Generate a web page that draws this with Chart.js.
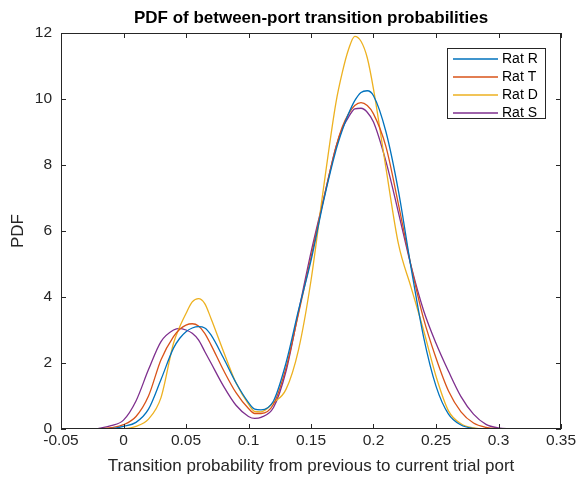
<!DOCTYPE html>
<html>
<head>
<meta charset="utf-8">
<script src="https://cdn.jsdelivr.net/npm/chart.js@4.4.1/dist/chart.umd.min.js"></script>
<style>
  html, body { margin: 0; padding: 0; background: #fff; }
  canvas { display: block; }
</style>
</head>
<body>
<canvas id="pdfChart" width="579" height="478"></canvas>
<script>
// Evaluation points (transition probability) shared by all four curves
const xValues = [-0.02, -0.01, 0, 0.01, 0.02, 0.03, 0.04, 0.045, 0.05, 0.055, 0.06, 0.065, 0.07,
    0.08, 0.09, 0.1, 0.105, 0.11, 0.12, 0.13, 0.14, 0.15, 0.16, 0.17, 0.175, 0.18, 0.185, 0.19,
    0.195, 0.2, 0.21, 0.22, 0.23, 0.24, 0.25, 0.26, 0.27, 0.28, 0.29, 0.3, 0.31];

// PDF values
const ratR = [0, 0.01, 0.08, 0.2, 0.6, 1.5, 2.45, 2.75, 2.95, 3.06, 3.1, 3.06, 2.85,
    2.15, 1.4, 0.8, 0.6, 0.58, 0.85, 2.0, 3.6, 5.1, 6.9, 8.45, 9.05, 9.55, 9.95, 10.2,
    10.25, 10.1, 9.0, 7.2, 4.9, 2.8, 1.3, 0.45, 0.12, 0.02, 0, 0, 0];
const ratT = [0, 0.04, 0.13, 0.38, 1.0, 2.1, 2.8, 3.02, 3.15, 3.19, 3.12, 2.9, 2.55,
    1.78, 1.1, 0.62, 0.47, 0.47, 0.75, 1.85, 3.5, 5.2, 6.95, 8.55, 9.15, 9.55, 9.8, 9.89,
    9.8, 9.55, 8.55, 6.8, 4.95, 3.35, 2.15, 1.15, 0.52, 0.18, 0.05, 0.01, 0];
const ratD = [0, 0, 0.01, 0.08, 0.3, 0.95, 2.6, 3.1, 3.5, 3.85, 3.95, 3.8, 3.35,
    2.35, 1.4, 0.75, 0.53, 0.52, 0.8, 1.2, 2.4, 4.5, 7.3, 9.9, 10.8, 11.5, 11.9, 11.75,
    11.25, 10.3, 7.9, 5.6, 4.3, 3.0, 1.6, 0.55, 0.16, 0.03, 0, 0, 0];
const ratS = [0.02, 0.1, 0.27, 0.85, 1.8, 2.65, 3.0, 3.05, 3.0, 2.9, 2.7, 2.35, 2.0,
    1.3, 0.72, 0.38, 0.32, 0.35, 0.65, 1.75, 3.55, 5.35, 6.95, 8.55, 9.1, 9.45, 9.7, 9.72,
    9.6, 9.3, 8.1, 6.55, 4.95, 3.6, 2.6, 1.75, 0.98, 0.45, 0.14, 0.03, 0];

const seriesNames = ['Rat R', 'Rat T', 'Rat D', 'Rat S'];
const seriesValues = [ratR, ratT, ratD, ratS];
const xTickLabels = ['-0.05', '0', '0.05', '0.1', '0.15', '0.2', '0.25', '0.3', '0.35'];
const yTickLabels = ['0', '2', '4', '6', '8', '10', '12'];

// MATLAB default line colours
const colors = ['#0072BD', '#D95319', '#EDB120', '#7E2F8E'];
const axisColor = '#262626';
const fontFamily = "'Liberation Sans', Arial, Helvetica, sans-serif";

// Box, inward ticks and legend, drawn the way MATLAB does it
const matlabAxes = {
    id: 'matlabAxes',
    afterLayout(chart) {
        // centre the title over the axes, not the whole canvas
        const t = chart.titleBlock;
        if (t) {
            t.left = chart.chartArea.left;
            t.right = chart.chartArea.right;
            t.width = t.right - t.left;
        }
    },
    afterDatasetsDraw(chart) {
        const { ctx, chartArea: a, scales: { x, y } } = chart;
        const tick = 5;
        ctx.save();
        ctx.strokeStyle = axisColor;
        ctx.lineWidth = 1;
        ctx.strokeRect(a.left + 0.5, a.top + 0.5, a.right - a.left - 1, a.bottom - a.top - 1);

        ctx.beginPath();
        x.ticks.forEach(t => {
            const px = Math.round(x.getPixelForValue(t.value)) + 0.5;
            ctx.moveTo(px, a.bottom); ctx.lineTo(px, a.bottom - tick);
            ctx.moveTo(px, a.top); ctx.lineTo(px, a.top + tick);
        });
        y.ticks.forEach(t => {
            const py = Math.round(y.getPixelForValue(t.value)) + 0.5;
            ctx.moveTo(a.left, py); ctx.lineTo(a.left + tick, py);
            ctx.moveTo(a.right, py); ctx.lineTo(a.right - tick, py);
        });
        ctx.stroke();

        // legend box in the top right corner
        const boxW = 99, boxH = 71;
        const bx = a.right - 15 - boxW, by = a.top + 15;
        ctx.fillStyle = '#fff';
        ctx.fillRect(bx, by, boxW, boxH);
        ctx.strokeRect(bx + 0.5, by + 0.5, boxW - 1, boxH - 1);
        ctx.font = '14px ' + fontFamily;
        ctx.textBaseline = 'middle';
        ctx.textAlign = 'left';
        chart.data.datasets.forEach((ds, i) => {
            const ly = by + 11 + i * 18;
            ctx.strokeStyle = ds.borderColor;
            ctx.lineWidth = 1.3;
            ctx.beginPath();
            ctx.moveTo(bx + 6, ly); ctx.lineTo(bx + 51, ly);
            ctx.stroke();
            ctx.fillStyle = '#000';
            ctx.fillText(ds.label, bx + 55, ly + 0.5);
        });
        ctx.restore();
    }
};

const datasets = seriesNames.map((name, i) => ({
    label: name,
    data: xValues.map((xv, j) => ({ x: xv, y: seriesValues[i][j] })),
    borderColor: colors[i],
    backgroundColor: 'transparent',
    borderWidth: 1.3,
    pointRadius: 0,
    cubicInterpolationMode: 'monotone',
    fill: false
}));

new Chart(document.getElementById('pdfChart'), {
    type: 'line',
    data: { datasets },
    options: {
        responsive: false,
        animation: false,
        layout: { padding: { left: 0, right: 18, top: 0, bottom: 0 } },
        plugins: {
            legend: { display: false },
            tooltip: { enabled: false },
            title: {
                display: true,
                text: 'PDF of between-port transition probabilities',
                color: '#000',
                font: { family: fontFamily, size: 17, weight: 'bold' },
                padding: { top: 8, bottom: 4.6 }
            }
        },
        scales: {
            x: {
                type: 'linear',
                min: -0.05,
                max: 0.35,
                grid: { display: false, drawTicks: false },
                border: { display: false },
                ticks: {
                    stepSize: 0.05,
                    padding: 2,
                    color: axisColor,
                    maxRotation: 0,
                    autoSkip: false,
                    font: { family: fontFamily, size: 15.5 },
                    callback: (v, i) => xTickLabels[i]
                },
                title: {
                    display: true,
                    text: 'Transition probability from previous to current trial port',
                    color: axisColor,
                    font: { family: fontFamily, size: 17 },
                    padding: { top: 0, bottom: 1 }
                },
                afterFit: s => { s.height = 49; }
            },
            y: {
                min: 0,
                max: 12,
                grid: { display: false, drawTicks: false },
                border: { display: false },
                ticks: {
                    stepSize: 2,
                    padding: 9,
                    color: axisColor,
                    font: { family: fontFamily, size: 15.5 },
                    callback: (v, i) => yTickLabels[i]
                },
                title: {
                    display: true,
                    text: 'PDF',
                    color: axisColor,
                    font: { family: fontFamily, size: 17 },
                    padding: { top: 8, bottom: 0 }
                },
                afterFit: s => { s.width = 61; }
            }
        }
    },
    plugins: [matlabAxes]
});
</script>
</body>
</html>
